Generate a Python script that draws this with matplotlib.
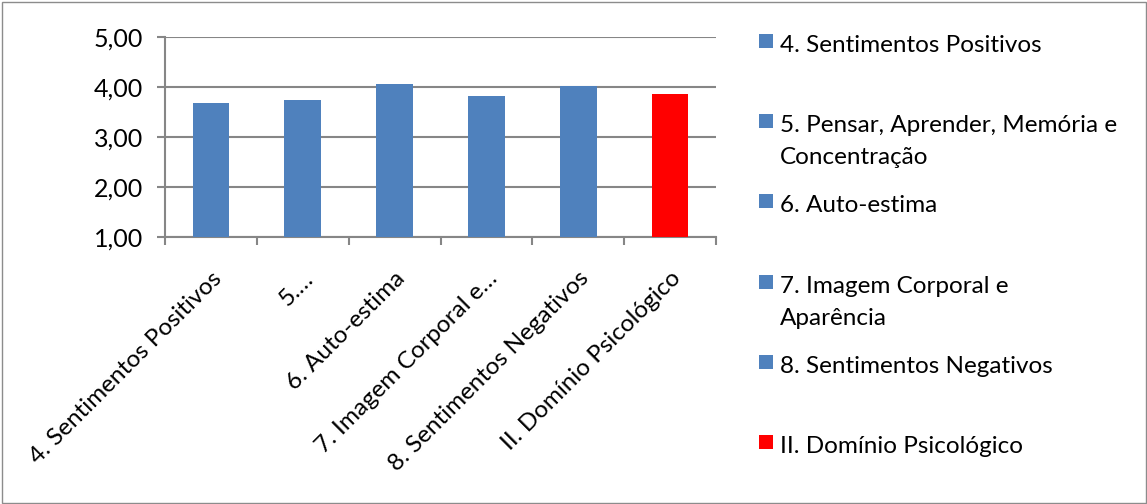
import matplotlib
matplotlib.use("Agg")
import matplotlib.pyplot as plt
from matplotlib.patches import Rectangle

categories = ["4. Sentimentos Positivos",
              "5. Pensar, Aprender, Memória e\nConcentração",
              "6. Auto-estima",
              "7. Imagem Corporal e\nAparência",
              "8. Sentimentos Negativos",
              "II. Domínio Psicológico"]
tick_labels = ["4. Sentimentos Positivos", "5.…", "6. Auto-estima",
               "7. Imagem Corporal e…", "8. Sentimentos Negativos",
               "II. Domínio Psicológico"]
values = [3.68, 3.74, 4.06, 3.82, 4.02, 3.86]
colors = ["#4f81bd", "#4f81bd", "#4f81bd", "#4f81bd", "#4f81bd", "#ff0000"]
yticks = [1, 2, 3, 4, 5]
ytick_labels = ["1,00", "2,00", "3,00", "4,00", "5,00"]

plt.rcParams['font.family'] = ['Lato', 'DejaVu Sans']
FS = 17.5
W, H = 1147, 504
fig = plt.figure(figsize=(W / 100, H / 100), dpi=100)
ax = fig.add_axes([165 / W, 1 - 237 / H, (716 - 165) / W, (237 - 37) / H])

x = list(range(len(values)))
ax.bar(x, values, width=0.4, color=colors, bottom=0, zorder=3)
ax.set_xlim(-0.5, len(values) - 0.5)
ax.set_ylim(1, 5)
ax.set_yticks(yticks)
ax.set_yticklabels(ytick_labels, fontsize=18)
ax.yaxis.grid(True, color="#868686", linewidth=1.5, zorder=0)
for s in ["top", "right"]:
    ax.spines[s].set_visible(False)
for s in ["left", "bottom"]:
    ax.spines[s].set_color("#868686")
    ax.spines[s].set_linewidth(1.5)
ax.tick_params(axis="y", length=6, width=1.5, color="#868686", pad=10)
ax.set_xticks([i - 0.5 for i in range(len(values) + 1)], minor=True)
ax.tick_params(axis="x", which="minor", length=6, width=1.5, color="#868686")
ax.set_xticks(x)
ax.tick_params(axis="x", which="major", length=0, pad=22)
ax.set_xticklabels(tick_labels, rotation=45, ha="right", va="top",
                   rotation_mode="anchor", fontsize=FS)

# legend (handle aligned with the first line of each entry)
y0 = 43
for i, (lab, c) in enumerate(zip(categories, colors)):
    yc = y0 + i * 80.2
    fig.add_artist(Rectangle((759 / W, 1 - (yc + 5) / H), 14 / W, 14 / H,
                             transform=fig.transFigure, color=c, lw=0))
    for k, line in enumerate(lab.split("\n")):
        fig.text(780 / W, 1 - (yc + 9 + k * 32) / H, line, fontsize=FS,
                 va="baseline", ha="left", transform=fig.transFigure)

fig.add_artist(Rectangle((1.5 / W, 1.5 / H), (W - 3) / W, (H - 3) / H,
                         transform=fig.transFigure, fill=False,
                         edgecolor="#8c8c8c", lw=1))
fig.savefig("out.png", dpi=100)
